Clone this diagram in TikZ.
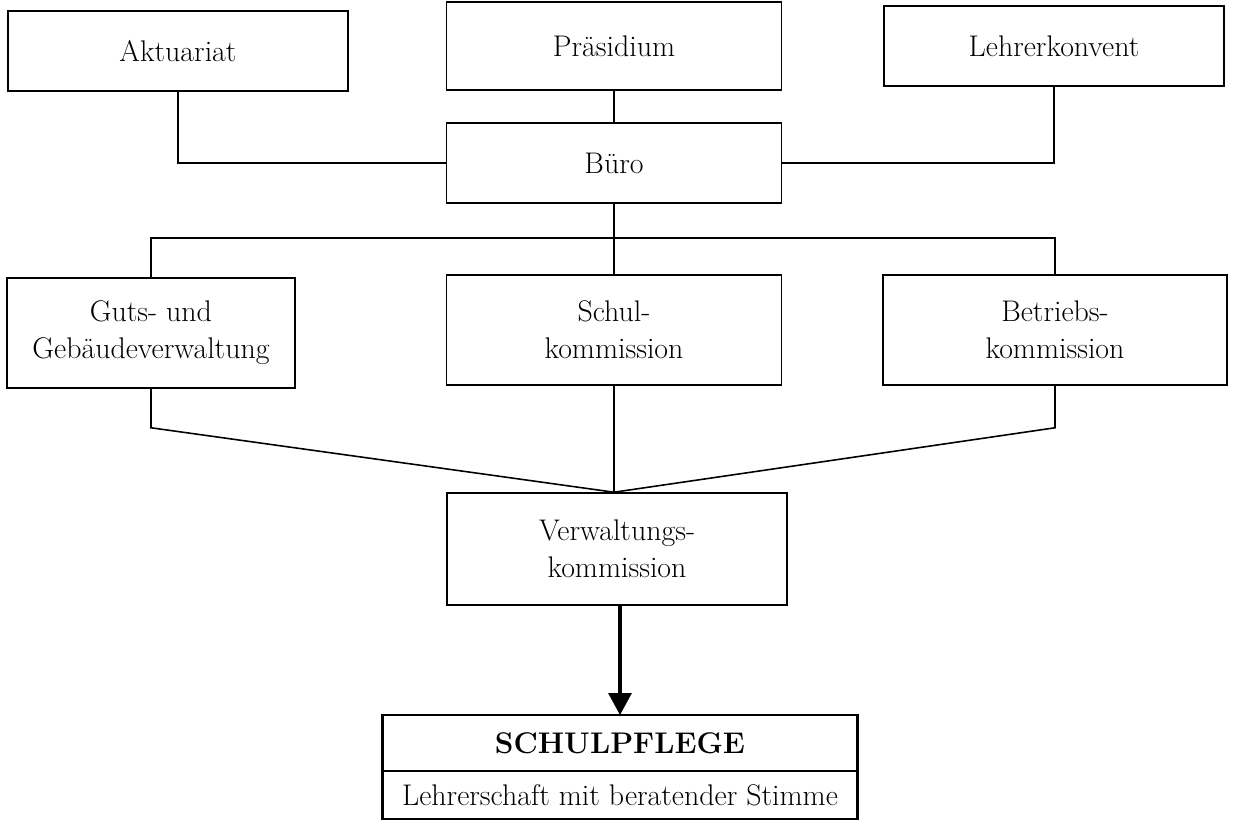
\documentclass[tikz,border=0pt]{standalone}
\usepackage{tikz}
\usetikzlibrary{arrows.meta}

\begin{document}
\begin{tikzpicture}[
  x=0.02cm, y=-0.02cm,
  box/.style={draw, line width=0.9pt, inner sep=2pt, align=center,
              font=\fontsize{17}{21}\selectfont},
  wide/.style={box, minimum width=6.8cm, minimum height=1.6cm},
  sub/.style={box, minimum width=6.8cm, minimum height=2.2cm},
  pfl/.style={box, line width=1.4pt, outer sep=0pt, minimum width=9.5cm},
  link/.style={line width=0.9pt},
  arr/.style={-{Triangle[length=0.44cm, width=0.46cm]}, line width=1.8pt}
]
  \useasboundingbox (0,0) rectangle (1234,821);

  \node[wide] (akt)    at (178,51)  {Aktuariat};
  \node[wide, minimum width=6.7cm, minimum height=1.76cm] (prae) at (614,46) {Präsidium};
  \node[wide] (lehrer) at (1054,46) {Lehrerkonvent};
  \node[wide, minimum width=6.7cm] (buero) at (614,163) {Büro};

  \node[sub, minimum width=5.76cm] (guts) at (151,333) {Guts- und\\Gebäudeverwaltung};
  \node[sub, minimum width=6.7cm]  (schul) at (614,330) {Schul-\\kommission};
  \node[sub, minimum width=6.88cm] (betr) at (1055,330) {Betriebs-\\kommission};

  \node[sub, minimum width=6.8cm, minimum height=2.24cm] (verw) at (617,549)
        {Verwaltungs-\\kommission};

  \node[pfl, minimum height=1.12cm] (pflege) at (620,743) {\textbf{SCHULPFLEGE}};
  \node[pfl, minimum height=0.96cm, anchor=north] (stimme) at (pflege.south)
        {Lehrerschaft mit beratender Stimme};

  \coordinate (split) at (614,238);
  \coordinate (join) at (verw.north -| schul);

  \draw[link] (akt.south) |- (buero.west);
  \draw[link] (lehrer.south) |- (buero.east);
  \draw[link] (prae) -- (buero);
  \draw[link] (buero) -- (schul);
  \draw[link] (guts.north) |- (split) -| (betr.north);
  \draw[link] (guts.south) -- ++(0,39) -- (join);
  \draw[link] (betr.south) -- ++(0,42) -- (join);
  \draw[link] (schul) -- (join);
  \draw[arr] (verw.south -| pflege) -- (pflege.north);
\end{tikzpicture}
\end{document}
